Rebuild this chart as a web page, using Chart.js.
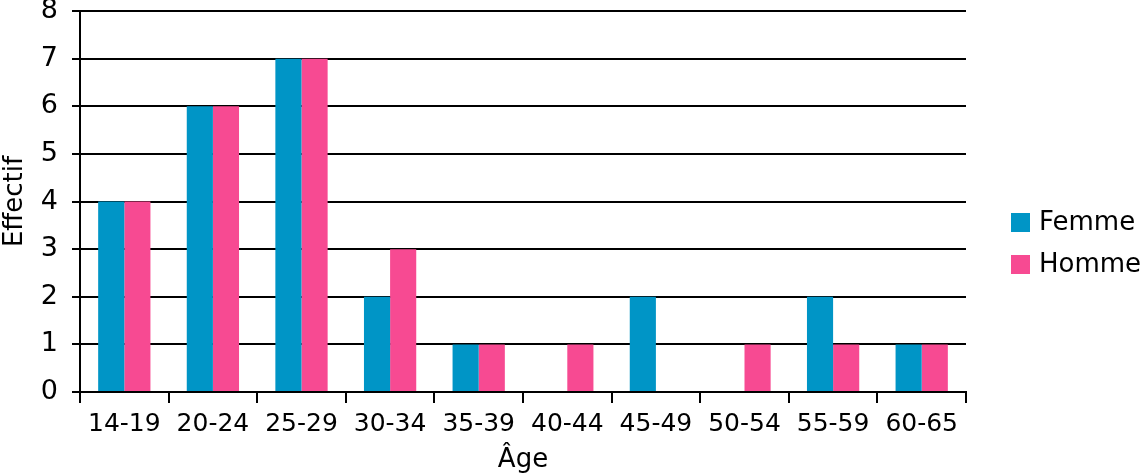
<!DOCTYPE html>
<html>
<head>
<meta charset="utf-8">
<script src="https://cdn.jsdelivr.net/npm/chart.js@4.4.0/dist/chart.umd.min.js"></script>
<style>
  html, body { margin: 0; padding: 0; background: #fff; }
  #wrap { width: 1146px; height: 473px; }
</style>
</head>
<body>
<div id="wrap"><canvas id="ageChart"></canvas></div>
<script>
const ageGroups = ['14-19', '20-24', '25-29', '30-34', '35-39', '40-44', '45-49', '50-54', '55-59', '60-65'];
const femme = [4, 6, 7, 2, 1, 0, 2, 0, 2, 1];
const homme = [4, 6, 7, 3, 1, 1, 0, 1, 1, 1];
const yTicks = [0, 1, 2, 3, 4, 5, 6, 7, 8];

const FONT = '"DejaVu Sans", sans-serif';

// legend drawn on the canvas, to the right of the plot
const sideLegend = {
    id: 'sideLegend',
    afterDraw(chart) {
        const { ctx, chartArea } = chart;
        const x = chartArea.right + 45;
        let y = 213;
        ctx.save();
        ctx.font = '26px ' + FONT;
        ctx.textBaseline = 'middle';
        chart.data.datasets.forEach(ds => {
            ctx.fillStyle = ds.backgroundColor;
            ctx.fillRect(x, y, 19, 19);
            ctx.fillStyle = '#000';
            ctx.fillText(ds.label, x + 28, y + 10);
            y += 42;
        });
        ctx.restore();
    }
};

new Chart(document.getElementById('ageChart'), {
    type: 'bar',
    data: {
        labels: ageGroups,
        datasets: [
            { label: 'Femme', data: femme, backgroundColor: '#0095c6', categoryPercentage: 0.59, barPercentage: 1 },
            { label: 'Homme', data: homme, backgroundColor: '#f74a92', categoryPercentage: 0.59, barPercentage: 1 }
        ]
    },
    plugins: [sideLegend],
    options: {
        responsive: true,
        maintainAspectRatio: false,
        animation: false,
        layout: { padding: { top: 0, right: 180, left: 0, bottom: 0 } },
        plugins: {
            tooltip: { enabled: false },
            legend: { display: false }
        },
        scales: {
            x: {
                grid: {
                    offset: true,
                    lineWidth: 2,
                    color: ctx => ctx.index === ageGroups.length ? '#000' : 'rgba(0,0,0,0)',
                    tickColor: '#000',
                    tickLength: 11
                },
                border: { color: '#000', width: 2 },
                ticks: { color: '#000', font: { family: FONT, size: 25 }, padding: 6, maxRotation: 0 },
                title: { display: true, text: 'Âge', color: '#000', font: { family: FONT, size: 26, lineHeight: 1 }, padding: { top: 2, bottom: 0 } }
            },
            y: {
                min: 0,
                max: 8,
                afterBuildTicks: axis => { axis.ticks = yTicks.map(v => ({ value: v })); },
                afterFit: axis => { axis.width = 80; axis.paddingTop = 11; },
                grid: { color: '#000', lineWidth: 2, tickLength: 8 },
                border: { color: '#000', width: 2 },
                ticks: { color: '#000', font: { family: FONT, size: 27 }, padding: 14 },
                title: { display: true, text: 'Effectif', color: '#000', font: { family: FONT, size: 26 }, padding: { top: 0, bottom: 0 } }
            }
        }
    }
});
</script>
</body>
</html>
